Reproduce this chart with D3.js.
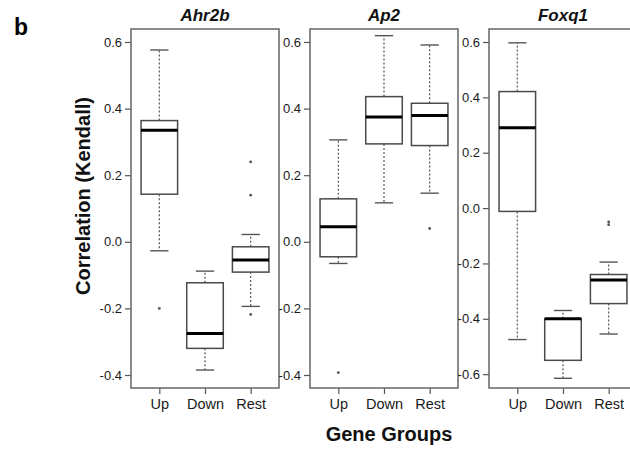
<!DOCTYPE html>
<html>
<head>
<meta charset="utf-8">
<script src="https://cdn.jsdelivr.net/npm/d3@7"></script>
<style>
  body { margin: 0; background: #fff; }
  svg { display: block; font-family: "Liberation Sans", Arial, sans-serif; }
</style>
</head>
<body>
<div id="chart"></div>
<script>
// categories and panels
var genes = ["Ahr2b", "Ap2", "Foxq1"]
var groups = ["Up", "Down", "Rest"]

// box stats per group: [lower whisker, Q1, median, Q3, upper whisker]
var ahr2bStats = [
  [-0.027, 0.143, 0.335, 0.364, 0.576],
  [-0.385, -0.320, -0.275, -0.123, -0.088],
  [-0.194, -0.091, -0.055, -0.015, 0.022]
]
var ahr2bOut = [[-0.200], [], [0.240, 0.140, -0.218]]

var ap2Stats = [
  [-0.065, -0.045, 0.045, 0.129, 0.306],
  [0.117, 0.294, 0.375, 0.436, 0.619],
  [0.146, 0.289, 0.379, 0.416, 0.591]
]
var ap2Out = [[-0.393], [], [0.040]]

var foxq1Stats = [
  [-0.475, -0.012, 0.290, 0.421, 0.597],
  [-0.615, -0.550, -0.400, -0.400, -0.370],
  [-0.455, -0.345, -0.260, -0.240, -0.195]
]
var foxq1Out = [[], [], [-0.050, -0.060]]

// y ticks and ranges
var ticksA = [-0.4, -0.2, 0.0, 0.2, 0.4, 0.6]
var ticksB = [-0.6, -0.4, -0.2, 0.0, 0.2, 0.4, 0.6]
var domainA = [-0.439, 0.639]
var domainB = [-0.650, 0.647]

var panels = [
  {name: genes[0], stats: ahr2bStats, out: ahr2bOut, ticks: ticksA, domain: domainA, left: 131},
  {name: genes[1], stats: ap2Stats, out: ap2Out, ticks: ticksA, domain: domainA, left: 310},
  {name: genes[2], stats: foxq1Stats, out: foxq1Out, ticks: ticksB, domain: domainB, left: 489}
]

var W = 630, H = 449
var plotTop = 29, plotBottom = 388, pw = 148

var svg = d3.select("#chart").append("svg")
  .attr("width", W)
  .attr("height", H)

panels.forEach(function(p) {
  var x = d3.scaleLinear().domain([0.38, 3.62]).range([p.left, p.left + pw])
  var y = d3.scaleLinear().domain(p.domain).range([plotBottom, plotTop])
  var bw = (x(1.4) - x(0.6))   // boxwex 0.8
  var g = svg.append("g")

  // y axis
  g.append("g")
    .attr("transform", "translate(" + p.left + ",0)")
    .call(d3.axisLeft(y)
      .tickValues(p.ticks)
      .tickSize(6)
      .tickPadding(3)
      .tickFormat(function(d) { return d.toFixed(1) }))
    .call(function(a) {
      a.select(".domain").remove()
      a.selectAll("line").attr("stroke", "#555").attr("stroke-width", 1.2)
      a.selectAll("text").attr("font-size", 13).attr("fill", "#1a1a1a")
        .attr("font-family", "Liberation Sans, Arial, sans-serif")
    })

  // x axis
  g.append("g")
    .attr("transform", "translate(0," + plotBottom + ")")
    .call(d3.axisBottom(x)
      .tickValues([1, 2, 3])
      .tickSize(6)
      .tickPadding(5)
      .tickFormat(function(d) { return groups[d - 1] }))
    .call(function(a) {
      a.select(".domain").remove()
      a.selectAll("line").attr("stroke", "#555").attr("stroke-width", 1.2)
      a.selectAll("text").attr("font-size", 14.5).attr("fill", "#1a1a1a")
        .attr("font-family", "Liberation Sans, Arial, sans-serif")
    })

  // boxes
  p.stats.forEach(function(s, i) {
    var cx = x(i + 1)
    var bg = g.append("g")
    // whiskers (dotted)
    bg.append("line")
      .attr("x1", cx).attr("x2", cx)
      .attr("y1", y(s[3])).attr("y2", y(s[4]))
      .attr("stroke", "#555").attr("stroke-width", 1.2)
      .attr("stroke-dasharray", "2,2")
    bg.append("line")
      .attr("x1", cx).attr("x2", cx)
      .attr("y1", y(s[1])).attr("y2", y(s[0]))
      .attr("stroke", "#555").attr("stroke-width", 1.2)
      .attr("stroke-dasharray", "2,2")
    // caps
    ;[s[0], s[4]].forEach(function(v) {
      bg.append("line")
        .attr("x1", cx - bw / 4).attr("x2", cx + bw / 4)
        .attr("y1", y(v)).attr("y2", y(v))
        .attr("stroke", "#555").attr("stroke-width", 1.4)
    })
    // box
    bg.append("rect")
      .attr("x", cx - bw / 2)
      .attr("y", y(s[3]))
      .attr("width", bw)
      .attr("height", y(s[1]) - y(s[3]))
      .attr("fill", "#fff")
      .attr("stroke", "#4a4a4a")
      .attr("stroke-width", 1.5)
    // median
    bg.append("line")
      .attr("x1", cx - bw / 2).attr("x2", cx + bw / 2)
      .attr("y1", y(s[2])).attr("y2", y(s[2]))
      .attr("stroke", "#000").attr("stroke-width", 3)
    // outliers
    p.out[i].forEach(function(v) {
      bg.append("circle")
        .attr("cx", cx).attr("cy", y(v)).attr("r", 1.4)
        .attr("fill", "#555")
    })
  })

  // frame
  g.append("rect")
    .attr("x", p.left).attr("y", plotTop)
    .attr("width", pw).attr("height", plotBottom - plotTop)
    .attr("fill", "none")
    .attr("stroke", "#666")
    .attr("stroke-width", 1.5)

  // title
  g.append("text")
    .attr("x", p.left + pw / 2)
    .attr("y", 21)
    .attr("text-anchor", "middle")
    .attr("font-size", 17)
    .attr("font-weight", "bold")
    .attr("font-style", "italic")
    .attr("fill", "#111")
    .text(p.name)
})

// labels
svg.append("text")
  .attr("x", 14).attr("y", 35)
  .attr("font-size", 23)
  .attr("font-weight", "bold")
  .text("b")

svg.append("text")
  .attr("transform", "translate(90,196) rotate(-90)")
  .attr("text-anchor", "middle")
  .attr("font-size", 20)
  .attr("font-weight", "bold")
  .attr("fill", "#111")
  .text("Correlation (Kendall)")

svg.append("text")
  .attr("x", 389).attr("y", 441)
  .attr("text-anchor", "middle")
  .attr("font-size", 20)
  .attr("font-weight", "bold")
  .attr("fill", "#111")
  .text("Gene Groups")
</script>
</body>
</html>
